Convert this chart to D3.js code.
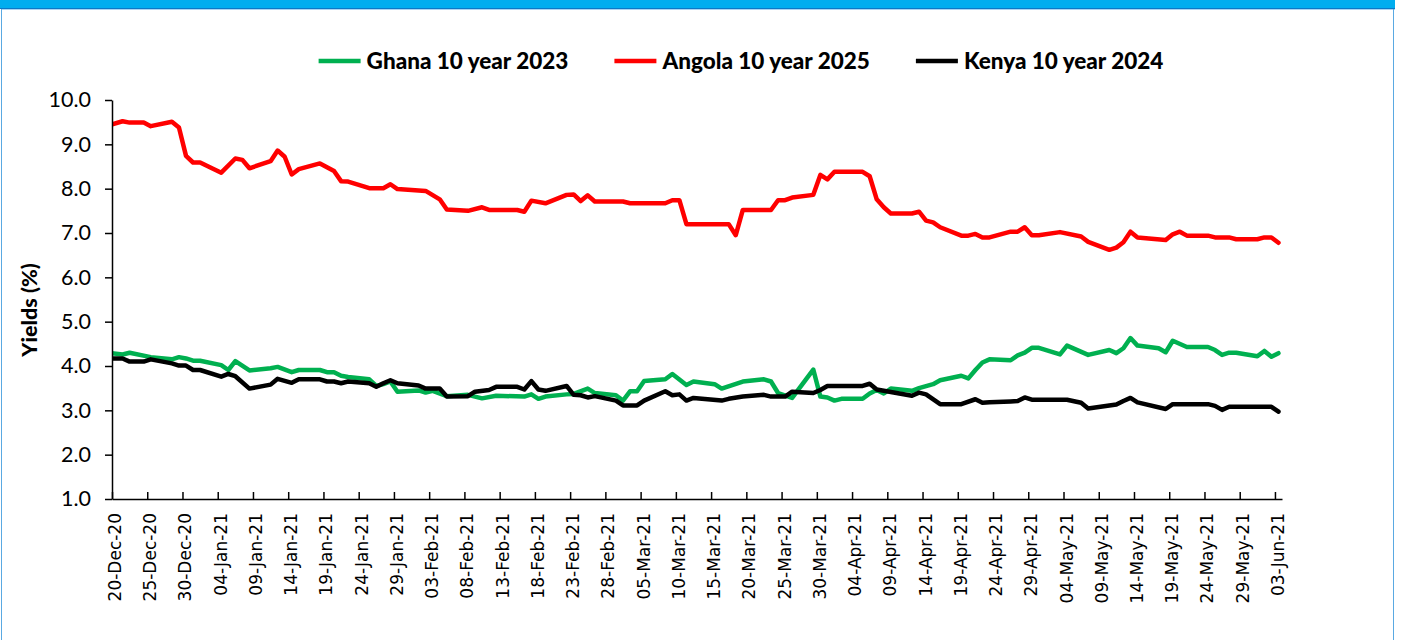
<!DOCTYPE html>
<html>
<head>
<meta charset="utf-8">
<script src="https://cdn.jsdelivr.net/npm/d3@7"></script>
<style>
  body { margin: 0; background: #fff; }
  svg { display: block; }
</style>
</head>
<body>
<script>
// series names, in legend order
var seriesNames = ["Ghana 10 year 2023", "Angola 10 year 2025", "Kenya 10 year 2024"];
var seriesColors = ["#00b050", "#ff0000", "#000000"];

// category axis labels (every 5th day)
var tickLabels = ["20-Dec-20","25-Dec-20","30-Dec-20","04-Jan-21","09-Jan-21","14-Jan-21","19-Jan-21",
  "24-Jan-21","29-Jan-21","03-Feb-21","08-Feb-21","13-Feb-21","18-Feb-21","23-Feb-21","28-Feb-21",
  "05-Mar-21","10-Mar-21","15-Mar-21","20-Mar-21","25-Mar-21","30-Mar-21","04-Apr-21","09-Apr-21",
  "14-Apr-21","19-Apr-21","24-Apr-21","29-Apr-21","04-May-21","09-May-21","14-May-21","19-May-21",
  "24-May-21","29-May-21","03-Jun-21"];

var yTicks = [1, 2, 3, 4, 5, 6, 7, 8, 9, 10];

// yields (%), [date, value]
var ghana = [
  ["2020-12-18",4.32],["2020-12-21",4.26],["2020-12-22",4.30],["2020-12-25",4.20],["2020-12-28",4.15],
  ["2020-12-29",4.20],["2020-12-30",4.17],["2020-12-31",4.12],["2021-01-01",4.12],["2021-01-04",4.02],
  ["2021-01-05",3.91],["2021-01-06",4.11],["2021-01-08",3.90],["2021-01-11",3.95],["2021-01-12",3.98],
  ["2021-01-14",3.86],["2021-01-15",3.91],["2021-01-18",3.91],["2021-01-19",3.86],["2021-01-20",3.86],
  ["2021-01-21",3.78],["2021-01-22",3.75],["2021-01-25",3.70],["2021-01-26",3.55],["2021-01-27",3.59],
  ["2021-01-28",3.65],["2021-01-29",3.42],["2021-02-01",3.45],["2021-02-02",3.40],["2021-02-03",3.44],
  ["2021-02-05",3.32],["2021-02-08",3.35],["2021-02-10",3.27],["2021-02-12",3.33],["2021-02-16",3.31],
  ["2021-02-17",3.36],["2021-02-18",3.26],["2021-02-19",3.31],["2021-02-22",3.36],["2021-02-23",3.37],
  ["2021-02-25",3.49],["2021-02-26",3.39],["2021-03-01",3.34],["2021-03-02",3.22],["2021-03-03",3.43],
  ["2021-03-04",3.43],["2021-03-05",3.66],["2021-03-08",3.70],["2021-03-09",3.82],["2021-03-11",3.57],
  ["2021-03-12",3.65],["2021-03-15",3.59],["2021-03-16",3.49],["2021-03-19",3.65],["2021-03-22",3.70],
  ["2021-03-23",3.65],["2021-03-24",3.39],["2021-03-26",3.28],["2021-03-29",3.92],["2021-03-30",3.31],
  ["2021-03-31",3.29],["2021-04-01",3.22],["2021-04-02",3.26],["2021-04-05",3.26],["2021-04-06",3.38],
  ["2021-04-07",3.46],["2021-04-08",3.38],["2021-04-09",3.49],["2021-04-12",3.44],["2021-04-13",3.50],
  ["2021-04-15",3.59],["2021-04-16",3.68],["2021-04-19",3.78],["2021-04-20",3.72],["2021-04-21",3.91],
  ["2021-04-22",4.08],["2021-04-23",4.15],["2021-04-26",4.13],["2021-04-27",4.24],["2021-04-28",4.30],
  ["2021-04-29",4.41],["2021-04-30",4.41],["2021-05-03",4.26],["2021-05-04",4.46],["2021-05-07",4.25],
  ["2021-05-10",4.36],["2021-05-11",4.29],["2021-05-12",4.40],["2021-05-13",4.63],["2021-05-14",4.46],
  ["2021-05-17",4.40],["2021-05-18",4.31],["2021-05-19",4.57],["2021-05-21",4.43],["2021-05-24",4.43],
  ["2021-05-25",4.36],["2021-05-26",4.25],["2021-05-27",4.30],["2021-05-28",4.30],["2021-05-31",4.22],
  ["2021-06-01",4.34],["2021-06-02",4.21],["2021-06-03",4.29]
];

var angola = [
  ["2020-12-18",9.38],["2020-12-21",9.52],["2020-12-22",9.49],["2020-12-24",9.49],["2020-12-25",9.41],
  ["2020-12-28",9.51],["2020-12-29",9.38],["2020-12-30",8.74],["2020-12-31",8.59],["2021-01-01",8.59],
  ["2021-01-04",8.36],["2021-01-06",8.68],["2021-01-07",8.65],["2021-01-08",8.46],["2021-01-11",8.62],
  ["2021-01-12",8.86],["2021-01-13",8.72],["2021-01-14",8.32],["2021-01-15",8.44],["2021-01-18",8.57],
  ["2021-01-20",8.40],["2021-01-21",8.17],["2021-01-22",8.16],["2021-01-25",8.01],["2021-01-27",8.01],
  ["2021-01-28",8.10],["2021-01-29",7.99],["2021-02-02",7.95],["2021-02-04",7.76],["2021-02-05",7.53],
  ["2021-02-08",7.50],["2021-02-10",7.58],["2021-02-11",7.52],["2021-02-15",7.52],["2021-02-16",7.48],
  ["2021-02-17",7.73],["2021-02-19",7.67],["2021-02-22",7.86],["2021-02-23",7.87],["2021-02-24",7.72],
  ["2021-02-25",7.85],["2021-02-26",7.71],["2021-03-02",7.71],["2021-03-03",7.67],["2021-03-08",7.67],
  ["2021-03-09",7.74],["2021-03-10",7.74],["2021-03-11",7.20],["2021-03-17",7.20],["2021-03-18",6.95],
  ["2021-03-19",7.52],["2021-03-23",7.52],["2021-03-24",7.74],["2021-03-25",7.74],["2021-03-26",7.80],
  ["2021-03-29",7.86],["2021-03-30",8.31],["2021-03-31",8.21],["2021-04-01",8.38],["2021-04-05",8.38],
  ["2021-04-06",8.28],["2021-04-07",7.76],["2021-04-08",7.58],["2021-04-09",7.44],["2021-04-12",7.44],
  ["2021-04-13",7.48],["2021-04-14",7.28],["2021-04-15",7.24],["2021-04-16",7.13],["2021-04-19",6.94],
  ["2021-04-20",6.94],["2021-04-21",6.98],["2021-04-22",6.90],["2021-04-23",6.90],["2021-04-26",7.03],
  ["2021-04-27",7.03],["2021-04-28",7.13],["2021-04-29",6.95],["2021-04-30",6.95],["2021-05-03",7.02],
  ["2021-05-06",6.92],["2021-05-07",6.80],["2021-05-10",6.62],["2021-05-11",6.67],["2021-05-12",6.79],
  ["2021-05-13",7.03],["2021-05-14",6.90],["2021-05-18",6.84],["2021-05-19",6.97],["2021-05-20",7.03],
  ["2021-05-21",6.94],["2021-05-24",6.94],["2021-05-25",6.90],["2021-05-27",6.90],["2021-05-28",6.86],
  ["2021-05-31",6.86],["2021-06-01",6.90],["2021-06-02",6.90],["2021-06-03",6.78]
];

var kenya = [
  ["2020-12-18",4.17],["2020-12-21",4.17],["2020-12-22",4.10],["2020-12-24",4.10],["2020-12-25",4.15],
  ["2020-12-28",4.06],["2020-12-29",4.01],["2020-12-30",4.01],["2020-12-31",3.91],["2021-01-01",3.91],
  ["2021-01-04",3.76],["2021-01-05",3.82],["2021-01-06",3.77],["2021-01-08",3.49],["2021-01-11",3.58],
  ["2021-01-12",3.71],["2021-01-14",3.62],["2021-01-15",3.70],["2021-01-18",3.70],["2021-01-19",3.65],
  ["2021-01-20",3.65],["2021-01-21",3.61],["2021-01-22",3.65],["2021-01-25",3.61],["2021-01-26",3.53],
  ["2021-01-27",3.61],["2021-01-28",3.68],["2021-01-29",3.61],["2021-02-01",3.56],["2021-02-02",3.49],
  ["2021-02-04",3.49],["2021-02-05",3.31],["2021-02-08",3.32],["2021-02-09",3.42],["2021-02-11",3.46],
  ["2021-02-12",3.53],["2021-02-15",3.53],["2021-02-16",3.47],["2021-02-17",3.66],["2021-02-18",3.47],
  ["2021-02-19",3.44],["2021-02-22",3.55],["2021-02-23",3.35],["2021-02-24",3.34],["2021-02-25",3.29],
  ["2021-02-26",3.32],["2021-03-01",3.22],["2021-03-02",3.11],["2021-03-04",3.11],["2021-03-05",3.22],
  ["2021-03-08",3.43],["2021-03-09",3.34],["2021-03-10",3.36],["2021-03-11",3.22],["2021-03-12",3.28],
  ["2021-03-16",3.22],["2021-03-17",3.26],["2021-03-19",3.31],["2021-03-22",3.35],["2021-03-23",3.31],
  ["2021-03-25",3.31],["2021-03-26",3.42],["2021-03-29",3.39],["2021-03-30",3.46],["2021-03-31",3.55],
  ["2021-04-05",3.55],["2021-04-06",3.60],["2021-04-07",3.47],["2021-04-12",3.33],["2021-04-13",3.40],
  ["2021-04-14",3.36],["2021-04-16",3.14],["2021-04-19",3.14],["2021-04-21",3.25],["2021-04-22",3.17],
  ["2021-04-23",3.18],["2021-04-26",3.20],["2021-04-27",3.21],["2021-04-28",3.29],["2021-04-29",3.24],
  ["2021-05-04",3.24],["2021-05-06",3.17],["2021-05-07",3.04],["2021-05-11",3.13],["2021-05-12",3.21],
  ["2021-05-13",3.28],["2021-05-14",3.18],["2021-05-18",3.03],["2021-05-19",3.14],["2021-05-24",3.14],
  ["2021-05-25",3.10],["2021-05-26",3.01],["2021-05-27",3.08],["2021-06-02",3.08],["2021-06-03",2.97]
];

var width = 1402,
    height = 640;

var margin = {left: 112, right: 120, top: 100, bottom: 141};

var parseDay = d3.timeParse("%Y-%m-%d");
var parseTick = d3.timeParse("%d-%b-%y");

var svg = d3.select("body").append("svg")
  .attr("width", width)
  .attr("height", height);

// frame: blue band on top, thin blue borders
svg.append("rect").attr("x", 0).attr("y", 0).attr("width", width).attr("height", height).attr("fill", "#fff");
svg.append("rect").attr("x", 0).attr("y", 0).attr("width", 1395).attr("height", 8).attr("fill", "#00adef");
svg.append("line").attr("x1", 0).attr("x2", 1395).attr("y1", 8.5).attr("y2", 8.5).attr("stroke", "#0b78c6");
svg.append("line").attr("x1", 1.5).attr("x2", 1395).attr("y1", 9.5).attr("y2", 9.5).attr("stroke", "#a9d3f2");
svg.append("line").attr("x1", 1.5).attr("x2", 1.5).attr("y1", 9).attr("y2", height).attr("stroke", "#5aa9e2");
svg.append("line").attr("x1", 1393.5).attr("x2", 1393.5).attr("y1", 9).attr("y2", height).attr("stroke", "#5aa9e2");

var start = parseTick(tickLabels[0]),
    end = d3.timeDay.offset(parseTick(tickLabels[tickLabels.length - 1]), 1);

var x = d3.scaleTime()
  .domain([start, end])
  .range([margin.left, 1282]);

var y = d3.scaleLinear()
  .domain([1, 10])
  .range([499, 100]);

// clip lines to the plot area
svg.append("clipPath").attr("id", "plotclip")
  .append("rect")
  .attr("x", margin.left).attr("y", 90)
  .attr("width", 1282 - margin.left + 4).attr("height", 420);

var line = d3.line()
  .x(function(d) { return x(d3.timeHour.offset(parseDay(d[0]), 12)); })
  .y(function(d) { return y(d[1]); });

var allSeries = [ghana, angola, kenya];

svg.append("g")
  .attr("clip-path", "url(#plotclip)")
  .selectAll("path")
  .data(allSeries)
  .enter()
  .append("path")
  .attr("d", line)
  .attr("fill", "none")
  .attr("stroke", function(d, i) { return seriesColors[i]; })
  .attr("stroke-width", 4.5)
  .attr("stroke-linejoin", "round")
  .attr("stroke-linecap", "round");

// y axis
var yAxis = svg.append("g")
  .attr("transform", "translate(" + margin.left + ",0)")
  .call(d3.axisLeft(y).tickValues(yTicks).tickFormat(d3.format(".1f")).tickSizeInner(7).tickSizeOuter(0).tickPadding(14));

yAxis.select(".domain").attr("stroke", "#000").attr("stroke-width", 1.5);
yAxis.selectAll(".tick line").attr("stroke", "#000").attr("stroke-width", 1.5);
yAxis.selectAll("text")
  .attr("fill", "#000")
  .style("font-family", "Lato, 'Open Sans', sans-serif")
  .style("font-size", "21.5px");

// x axis, ticks pointing up into the plot
var xAxis = svg.append("g")
  .attr("transform", "translate(0,499)")
  .call(d3.axisBottom(x).tickValues(tickLabels.map(parseTick)).tickSizeInner(-7).tickSizeOuter(0)
    .tickFormat(d3.timeFormat("%d-%b-%y")));

xAxis.select(".domain").attr("stroke", "#000").attr("stroke-width", 1.5);
xAxis.selectAll(".tick line").attr("stroke", "#000").attr("stroke-width", 1.5);
xAxis.selectAll("text")
  .attr("fill", "#000")
  .attr("transform", "rotate(-90)")
  .attr("text-anchor", "end")
  .attr("x", -14)
  .attr("y", 0)
  .attr("dy", "0.5em")
  .style("font-family", "'DejaVu Sans', sans-serif")
  .style("font-size", "17px");

// y axis title
svg.append("text")
  .attr("transform", "translate(37,310) rotate(-90)")
  .attr("text-anchor", "middle")
  .style("font-family", "Lato, 'Open Sans', sans-serif")
  .style("font-weight", "900")
  .style("font-size", "21.5px")
  .text("Yields (%)");

// legend
var legend = svg.append("g");
var item = legend.selectAll("g")
  .data(seriesNames)
  .enter()
  .append("g");

item.append("line")
  .attr("x1", 0).attr("x2", 42)
  .attr("y1", 61).attr("y2", 61)
  .attr("stroke", function(d, i) { return seriesColors[i]; })
  .attr("stroke-width", 4.5);

item.append("text")
  .attr("x", 48)
  .attr("y", 69)
  .style("font-family", "Lato, 'Open Sans', sans-serif")
  .style("font-weight", "900")
  .style("font-size", "22.5px")
  .text(function(d) { return d; });

var pos = 0, positions = [];
item.each(function() {
  var w = d3.select(this).select("text").node().getComputedTextLength();
  positions.push(pos);
  pos += 48 + w + 46;
});
var legendWidth = pos - 46;
var legendStart = 741 - legendWidth / 2;
item.attr("transform", function(d, i) { return "translate(" + (legendStart + positions[i]) + ",0)"; });
</script>
</body>
</html>
